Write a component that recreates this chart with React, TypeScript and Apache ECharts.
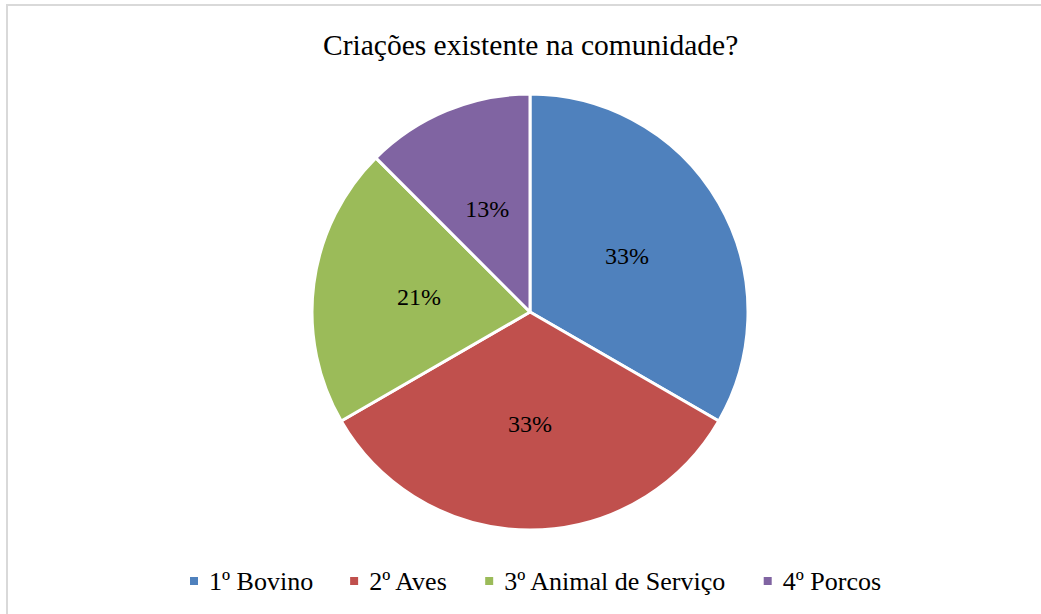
import React, { useEffect, useRef } from "react";
import * as echarts from "echarts";

const categories = ["1º Bovino", "2º Aves", "3º Animal de Serviço", "4º Porcos"];
const values = [8, 8, 5, 3];
const colors = ["#4F81BD", "#C0504D", "#9BBB59", "#8064A2"];
const titleText = "Criações existente na comunidade?";
const serif = "'Liberation Serif', 'Times New Roman', Times, serif";

export default function App() {
  const ref = useRef<HTMLDivElement>(null);
  useEffect(() => {
    document.body.style.margin = "0";
    const chart = echarts.init(ref.current!, null, { renderer: "svg" });
    chart.setOption({
      animation: false,
      backgroundColor: "#ffffff",
      color: colors,
      title: {
        text: titleText,
        left: 318,
        top: 25,
        textStyle: {
          fontFamily: serif,
          fontSize: 29.5,
          fontWeight: "normal",
          color: "#000",
        },
      },
      legend: {
        bottom: 15,
        left: 183,
        itemWidth: 10,
        itemHeight: 10,
        itemGap: 35,
        icon: "rect",
        textStyle: {
          fontFamily: serif,
          fontSize: 26,
          color: "#000",
          padding: [0, 0, 0, 5],
        },
      },
      graphic: [
        {
          type: "rect",
          shape: { x: 7, y: 5, width: 1200, height: 800 },
          style: { fill: "none", stroke: "#d9d9d9", lineWidth: 2 },
          silent: true,
        },
      ],
      series: [
        {
          type: "pie",
          center: [530, 312],
          radius: 218,
          startAngle: 90,
          clockwise: true,
          percentPrecision: 0,
          itemStyle: { borderColor: "#fff", borderWidth: 3 },
          label: {
            position: "inside",
            formatter: "{d}%",
            fontFamily: serif,
            fontSize: 24,
            color: "#000",
          },
          labelLine: { show: false },
          emphasis: { disabled: true },
          data: categories.map((c, i) => ({ name: c, value: values[i] })),
        },
      ],
    });
    return () => chart.dispose();
  }, []);
  return <div ref={ref} style={{ width: 1041, height: 614 }} />;
}
